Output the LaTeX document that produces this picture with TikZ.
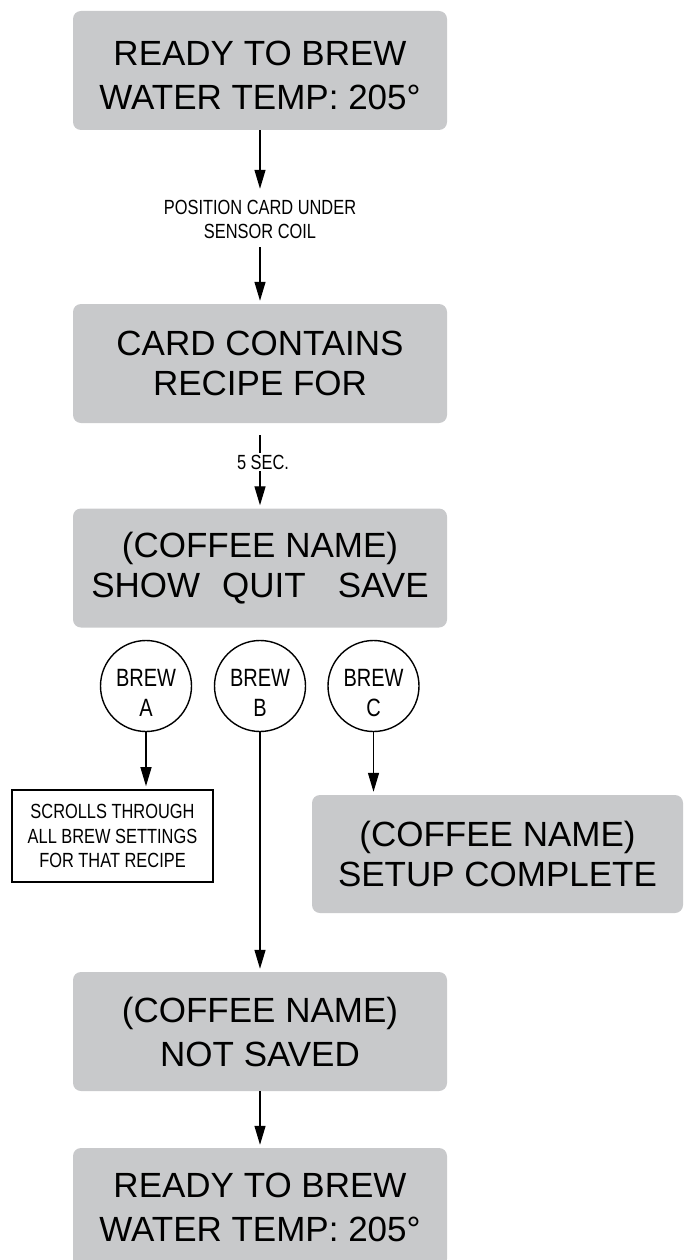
\documentclass[tikz,border=0pt]{standalone}
\usepackage{fontspec}
\setmainfont{Liberation Sans}
\newfontfamily\condfont[FakeStretch=0.8]{Liberation Sans}
\usetikzlibrary{arrows.meta}
\definecolor{boxgray}{RGB}{200,201,203}
\newcommand\bigfnt{\fontsize{35}{40}\selectfont}
\newcommand\smallfnt{\condfont\fontsize{20.5}{24.5}\selectfont}
\newcommand\brewfnt{\condfont\fontsize{25}{30}\selectfont}
\begin{document}
\begin{tikzpicture}[x=1pt,y=-1pt,
  gbox/.style={fill=boxgray, rounded corners=8pt, minimum width=374pt, minimum height=119pt, align=center, font=\bigfnt, inner sep=0pt},
  gtext/.style={align=center, font=\bigfnt, inner sep=0pt},
  arr/.style={line width=1.3pt, -{Triangle[length=19pt,width=11pt]}, shorten >=3pt},
  ln/.style={line width=1.3pt},
  brewc/.style={circle, draw, line width=1.4pt, minimum size=91pt, inner sep=0pt},
  brewt/.style={align=center, font=\brewfnt, inner sep=0pt},
  lbl/.style={align=center, font=\smallfnt, inner xsep=0pt, inner ysep=8pt},
  sbox/.style={draw, line width=1.6pt, minimum width=201pt, minimum height=92pt, align=center, font=\smallfnt, inner sep=0pt}
]
\useasboundingbox (0,0) rectangle (684,1260);

\node[gbox] (b1) at (260,70.5) {};
\node[gtext] (b1t) at (260,75) {READY TO BREW\\[4pt]WATER TEMP: 205°};
\node[lbl] (pos) at (260,219.5) {POSITION CARD UNDER\\SENSOR COIL};
\node[gbox] (b2) at (260,363.5) {CARD CONTAINS\\RECIPE FOR};
\node[lbl, inner ysep=2pt] (sec) at (263,462) {5 SEC.};
\coordinate (c5) at (260,435);
\node[gbox] (b3) at (260,568) {(COFFEE NAME)\\SHOW\hspace{22pt}QUIT\hspace{32pt}SAVE};

\node[brewc] (A) at (146,686) {};
\node[brewc] (B) at (260,686) {};
\node[brewc] (C) at (373.5,686) {};
\node[brewt] (At) at ([yshift=-7pt]A.center) {BREW\\A};
\node[brewt] (Bt) at ([yshift=-7pt]B.center) {BREW\\B};
\node[brewt] (Ct) at ([yshift=-7pt]C.center) {BREW\\C};

\node[sbox] (sb) at (112.5,836) {SCROLLS THROUGH\\ALL BREW SETTINGS\\FOR THAT RECIPE};
\node[gbox, minimum width=371pt, minimum height=118pt] (b5) at (497.5,854) {(COFFEE NAME)\\SETUP COMPLETE};
\node[gbox] (b4) at (260,1031.5) {(COFFEE NAME)\\[4pt]NOT SAVED};
\node[gbox] (b6) at (260,1207.5) {READY TO BREW\\[4pt]WATER TEMP: 205°};

\draw[arr] (b1) -- (pos);
\draw[arr] (pos) -- (b2);
\draw[ln] (c5) -- (c5 |- sec.north);
\draw[arr] (c5 |- sec.south) -- (c5 |- b3.north);
\draw[arr] (A) -- (A |- sb.north);
\draw[arr] (B) -- (b4);
\draw[arr] (C) -- (C |- b5.north);
\draw[arr] (b4) -- (b6);
\end{tikzpicture}
\end{document}
